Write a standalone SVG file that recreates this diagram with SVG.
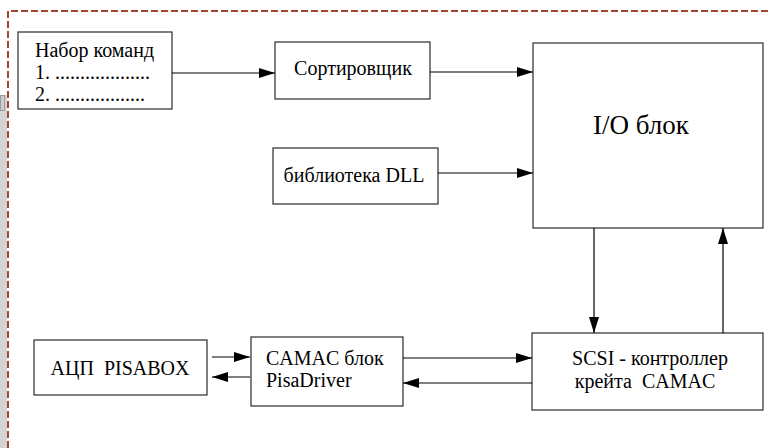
<svg xmlns="http://www.w3.org/2000/svg" width="769" height="448" viewBox="0 0 769 448">
  <style>
    .box { fill: #ffffff; stroke: #2b2b2b; stroke-width: 1.2; }
    .txt { font-family: "Liberation Serif", "Times New Roman", serif; font-size: 20px; fill: #000; }
    .big { font-size: 27px; }
    .wire { stroke: #000; stroke-width: 1.2; fill: none; }
    .frame { stroke: #a2462e; stroke-width: 2; stroke-dasharray: 7 3; fill: none; }
  </style>
  <defs>
    <marker id="arrow" viewBox="0 0 16 10" refX="16" refY="5" markerWidth="16" markerHeight="10" markerUnits="userSpaceOnUse" orient="auto">
      <path d="M0,0 L16,5 L0,10 z" fill="#000"/>
    </marker>
  </defs>

  <rect width="769" height="448" fill="#ffffff"/>

  <!-- window edge strip on the left -->
  <rect x="0" y="95" width="7" height="353" fill="#d4d4d4"/>
  <rect x="0.5" y="95.5" width="4" height="15" fill="#cfcfcf" stroke="#9a9a9a" stroke-width="1"/>

  <!-- dashed frame -->
  <path class="frame" d="M8,448 L8,11 L769,11"/>

  <g id="node-commands">
    <rect class="box" x="18" y="32" width="154" height="77"/>
    <text class="txt" x="35" y="57">Набор команд</text>
    <text class="txt" x="35" y="79">1. ...................</text>
    <text class="txt" x="35" y="101">2. ..................</text>
  </g>

  <g id="node-sorter">
    <rect class="box" x="275" y="42" width="155" height="57"/>
    <text class="txt" x="353" y="75" text-anchor="middle">Сортировщик</text>
  </g>

  <g id="node-io">
    <rect class="box" x="533" y="43" width="230" height="185"/>
    <text class="txt big" x="641" y="134" text-anchor="middle">I/O блок</text>
  </g>

  <g id="node-dll">
    <rect class="box" x="273" y="148" width="165" height="56"/>
    <text class="txt" x="354" y="182" text-anchor="middle">библиотека DLL</text>
  </g>

  <g id="node-scsi">
    <rect class="box" x="532" y="333" width="231" height="77"/>
    <text class="txt" x="650" y="365" text-anchor="middle">SCSI - контроллер</text>
    <text class="txt" x="645" y="388" text-anchor="middle" xml:space="preserve">крейта  CAMAC</text>
  </g>

  <g id="node-camac">
    <rect class="box" x="251" y="337" width="152" height="69"/>
    <text class="txt" x="266" y="365">CAMAC блок</text>
    <text class="txt" x="266" y="387">PisaDriver</text>
  </g>

  <g id="node-adc">
    <rect class="box" x="34" y="340" width="173" height="55"/>
    <text class="txt" x="120" y="375" text-anchor="middle" xml:space="preserve">АЦП  PISABOX</text>
  </g>

  <g id="connectors">
    <line class="wire" x1="172" y1="73" x2="275" y2="73" marker-end="url(#arrow)"/>
    <line class="wire" x1="430" y1="72" x2="533" y2="72" marker-end="url(#arrow)"/>
    <line class="wire" x1="438" y1="173" x2="533" y2="173" marker-end="url(#arrow)"/>
    <line class="wire" x1="594" y1="228" x2="594" y2="333" marker-end="url(#arrow)"/>
    <line class="wire" x1="723" y1="333" x2="723" y2="228" marker-end="url(#arrow)"/>
    <line class="wire" x1="403" y1="358" x2="532" y2="358" marker-end="url(#arrow)"/>
    <line class="wire" x1="532" y1="383" x2="403" y2="383" marker-end="url(#arrow)"/>
    <line class="wire" x1="212" y1="357" x2="250" y2="357" marker-end="url(#arrow)"/>
    <line class="wire" x1="250" y1="377" x2="212" y2="377" marker-end="url(#arrow)"/>
  </g>
</svg>
